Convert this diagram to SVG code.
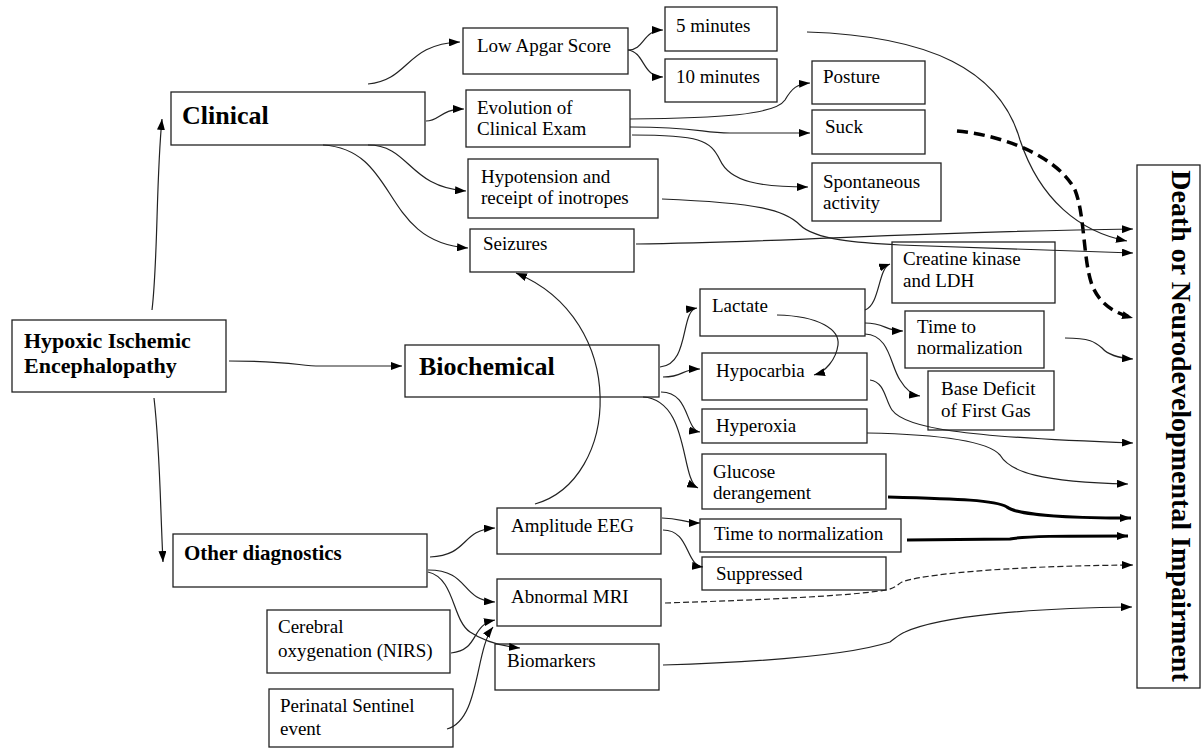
<svg xmlns="http://www.w3.org/2000/svg" width="1201" height="748" viewBox="0 0 1201 748">
<style>
.box{fill:#fff;stroke:#222;stroke-width:1.3}
.t{font-family:"Liberation Serif","Times New Roman",serif;font-size:19px;fill:#000}
.b{font-weight:bold}
.c{fill:none;stroke:#222;stroke-width:1.2;marker-end:url(#ah)}
.thick{stroke-width:3;stroke:#000}
.dthick{stroke-width:3.5;stroke:#000;stroke-dasharray:11 6}
.dthin{stroke-dasharray:6 3}
</style>
<defs>
<marker id="ah" markerUnits="userSpaceOnUse" markerWidth="11" markerHeight="8" refX="11" refY="4" orient="auto">
<path d="M0,0 L11,4 L0,8 z" fill="#000"/>
</marker>
</defs>
<rect width="1201" height="748" fill="#fff"/>

<g id="hie"><rect class="box" x="12" y="320" width="214" height="72"/><text class="t b" style="font-size:22px"><tspan x="24" y="348">Hypoxic Ischemic</tspan><tspan x="24" y="373">Encephalopathy</tspan></text></g>
<g id="clinical"><rect class="box" x="171" y="92" width="254" height="53"/><text class="t b" x="182" y="124" style="font-size:26px">Clinical</text></g>
<g id="biochemical"><rect class="box" x="405" y="345" width="254" height="52"/><text class="t b" x="419" y="375" style="font-size:26px">Biochemical</text></g>
<g id="other"><rect class="box" x="173" y="534" width="254" height="53"/><text class="t b" x="184" y="560" style="font-size:21px">Other diagnostics</text></g>

<g id="apgar"><rect class="box" x="463" y="28" width="165" height="46"/><text class="t" x="477" y="52">Low Apgar Score</text></g>
<g id="min5"><rect class="box" x="665" y="7" width="112" height="44"/><text class="t" x="676" y="32">5 minutes</text></g>
<g id="min10"><rect class="box" x="665" y="59" width="112" height="43"/><text class="t" x="676" y="83">10 minutes</text></g>
<g id="evolution"><rect class="box" x="466" y="90" width="164" height="57"/><text class="t"><tspan x="477" y="114">Evolution of</tspan><tspan x="477" y="135">Clinical Exam</tspan></text></g>
<g id="posture"><rect class="box" x="812" y="61" width="113" height="43"/><text class="t" x="823" y="83">Posture</text></g>
<g id="suck"><rect class="box" x="812" y="110" width="113" height="44"/><text class="t" x="825" y="133">Suck</text></g>
<g id="spont"><rect class="box" x="812" y="163" width="129" height="58"/><text class="t"><tspan x="823" y="188">Spontaneous</tspan><tspan x="823" y="209">activity</tspan></text></g>
<g id="hypotension"><rect class="box" x="468" y="159" width="190" height="59"/><text class="t"><tspan x="481" y="183">Hypotension and</tspan><tspan x="481" y="204">receipt of inotropes</tspan></text></g>
<g id="seizures"><rect class="box" x="470" y="229" width="164" height="43"/><text class="t" x="483" y="250">Seizures</text></g>

<g id="lactate"><rect class="box" x="700" y="289" width="165" height="47"/><text class="t" x="712" y="312">Lactate</text></g>
<g id="hypocarbia"><rect class="box" x="702" y="353" width="165" height="47"/><text class="t" x="716" y="377">Hypocarbia</text></g>
<g id="hyperoxia"><rect class="box" x="702" y="409" width="165" height="34"/><text class="t" x="716" y="432">Hyperoxia</text></g>
<g id="glucose"><rect class="box" x="702" y="454" width="184" height="55"/><text class="t"><tspan x="713" y="478">Glucose</tspan><tspan x="713" y="499">derangement</tspan></text></g>
<g id="creatine"><rect class="box" x="892" y="242" width="163" height="61"/><text class="t"><tspan x="903" y="265">Creatine kinase</tspan><tspan x="903" y="287">and LDH</tspan></text></g>
<g id="lacnorm"><rect class="box" x="905" y="311" width="139" height="57"/><text class="t"><tspan x="917" y="333">Time to</tspan><tspan x="917" y="354">normalization</tspan></text></g>
<g id="basedeficit"><rect class="box" x="928" y="371" width="126" height="59"/><text class="t"><tspan x="941" y="395">Base Deficit</tspan><tspan x="941" y="417">of First Gas</tspan></text></g>

<g id="aeeg"><rect class="box" x="497" y="508" width="164" height="46"/><text class="t" x="511" y="532">Amplitude EEG</text></g>
<g id="eegnorm"><rect class="box" x="700" y="519" width="201" height="33"/><text class="t" x="714" y="540">Time to normalization</text></g>
<g id="suppressed"><rect class="box" x="702" y="557" width="184" height="33"/><text class="t" x="716" y="580">Suppressed</text></g>
<g id="mri"><rect class="box" x="497" y="579" width="164" height="47"/><text class="t" x="511" y="603">Abnormal MRI</text></g>
<g id="biomarkers"><rect class="box" x="495" y="644" width="164" height="46"/><text class="t" x="507" y="667">Biomarkers</text></g>
<g id="nirs"><rect class="box" x="267" y="610" width="183" height="63"/><text class="t"><tspan x="278" y="633">Cerebral</tspan><tspan x="278" y="657">oxygenation (NIRS)</tspan></text></g>
<g id="perinatal"><rect class="box" x="269" y="689" width="184" height="58"/><text class="t"><tspan x="280" y="712">Perinatal Sentinel</tspan><tspan x="280" y="735">event</tspan></text></g>

<g id="outcome"><rect class="box" x="1137" y="165" width="63" height="523"/><text class="t b" transform="translate(1172,426) rotate(90)" text-anchor="middle" style="font-size:28px">Death or Neurodevelopmental Impairment</text></g>

<g id="connectors">
<path class="c" d="M152,310 C158,260 156,180 162,119"/>
<path class="c" d="M154,398 C160,450 160,500 163,562"/>
<path class="c" d="M229,361 C290,361 300,366 320,366 L402,366"/>
<path class="c" d="M368,84 C410,80 405,44 460,42"/>
<path class="c" d="M426,121 C440,121 440,109 464,109"/>
<path class="c" d="M368,145 C410,145 408,187 466,191"/>
<path class="c" d="M323,145 C400,150 380,242 468,248"/>
<path class="c" d="M628,50 C645,50 642,30 663,30"/>
<path class="c" d="M628,50 C645,52 642,77 663,77"/>
<path class="c" d="M630,119 C720,118 775,115 785,100 C792,88 797,84 810,83"/>
<path class="c" d="M630,127 C700,127 700,133 730,133 L810,133"/>
<path class="c" d="M632,135 C700,135 710,140 720,160 C730,182 760,187 808,187"/>
<path class="c" d="M807,32 C930,36 1000,70 1020,140 C1040,200 1080,232 1127,241"/>
<path class="c dthick" d="M957,131 C1010,136 1060,160 1075,190 C1085,215 1083,260 1092,285 C1100,305 1115,313 1133,318"/>
<path class="c" d="M636,244 C800,242 900,232 1133,229"/>
<path class="c" d="M662,199 C760,203 785,210 800,225 C815,240 860,243 900,245 L1133,253"/>
<path class="c" d="M660,367 C690,365 680,310 697,308"/>
<path class="c" d="M663,377 C685,377 680,369 700,369"/>
<path class="c" d="M661,392 C690,392 685,430 700,432"/>
<path class="c" d="M643,397 C690,400 680,480 698,488"/>
<path class="c" d="M865,310 C880,305 878,268 890,264"/>
<path class="c" d="M865,323 C885,323 885,331 903,331"/>
<path class="c" d="M865,334 C890,335 890,365 900,380 C906,390 912,395 920,396"/>
<path class="c" d="M777,315 C820,316 840,330 838,345 C836,360 825,372 814,375"/>
<path class="c" d="M1065,338 C1090,338 1095,342 1102,348 C1108,355 1118,358 1133,359"/>
<path class="c" d="M870,380 C885,382 885,400 892,410 C905,428 960,437 1133,443"/>
<path class="c" d="M867,433 C920,434 985,438 1000,455 C1010,472 1040,482 1128,484"/>
<path class="c thick" d="M888,497 C960,499 995,500 1007,507 C1015,514 1060,518 1131,518"/>
<path class="c thick" d="M907,540 L1010,539 C1025,536 1060,536 1128,536"/>
<path class="c dthin" d="M665,603 C760,600 850,596 886,590 C896,588 898,584 902,582 C920,575 1000,566 1133,565"/>
<path class="c" d="M663,665 C760,662 850,655 890,642 C898,636 900,634 905,632 C940,616 1030,608 1132,607"/>
<path class="c" d="M535,504 C620,480 630,320 516,273"/>
<path class="c" d="M430,557 C470,555 460,530 495,528"/>
<path class="c" d="M428,570 C470,570 460,600 495,602"/>
<path class="c" d="M428,572 C455,578 452,620 470,632 C485,642 500,646 520,648"/>
<path class="c" d="M451,653 C480,650 470,625 495,620"/>
<path class="c" d="M447,729 C480,720 475,650 493,627"/>
<path class="c" d="M662,518 C680,518 685,523 700,523"/>
<path class="c" d="M663,530 C690,530 685,565 703,567"/>
</g>
</svg>
